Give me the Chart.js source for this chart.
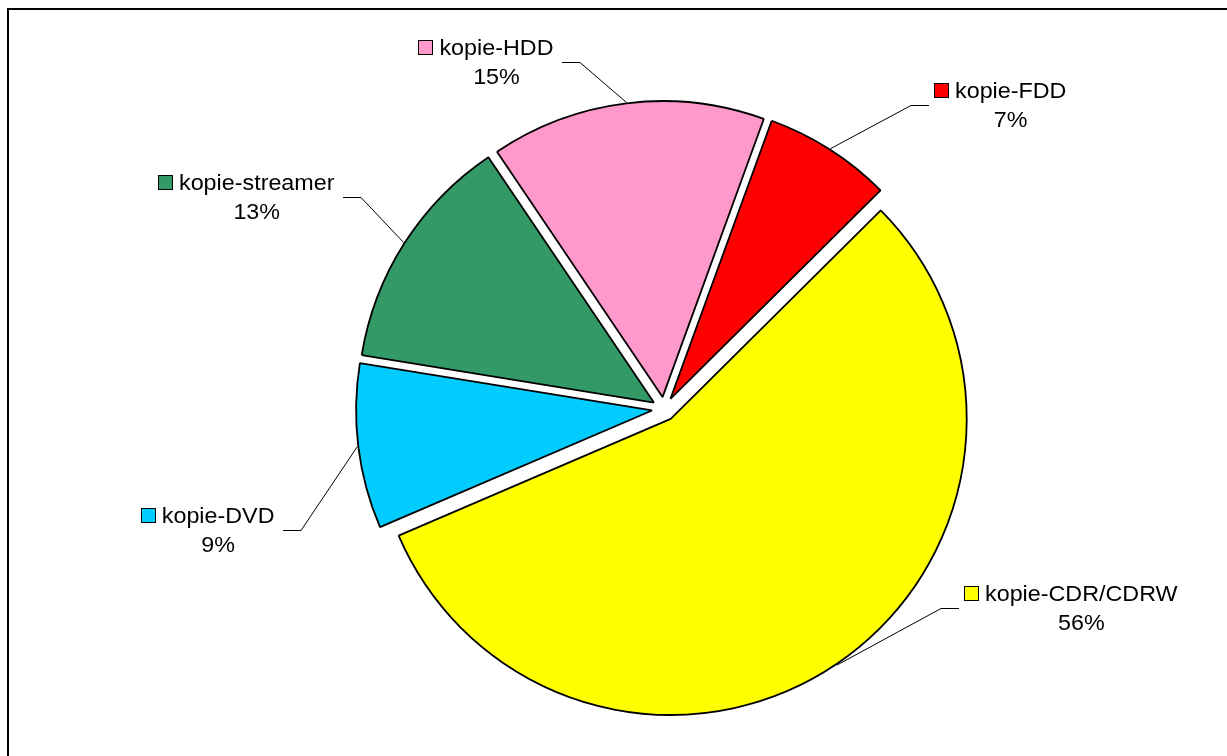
<!DOCTYPE html>
<html>
<head>
<meta charset="utf-8">
<title>Kopie</title>
<script src="https://cdn.jsdelivr.net/npm/chart.js@4.4.1/dist/chart.umd.min.js"></script>
<style>
  html, body { margin: 0; padding: 0; background: #fff; }
  #wrap { position: relative; width: 1227px; height: 756px; }
</style>
</head>
<body>
<div id="wrap"><canvas id="backupChart"></canvas></div>
<script>
// Slices, clockwise from the first one
const categories = ["kopie-FDD", "kopie-CDR/CDRW", "kopie-DVD", "kopie-streamer", "kopie-HDD"]
const shares = [7, 56, 9, 13, 15]
const sliceColors = ["#FF0000", "#FFFF00", "#00CCFF", "#339966", "#FF99CC"]

// Where each leader line ends (the label sits next to this point)
const labelAnchors = [[929, 105], [959, 608], [283, 530], [343, 197], [562, 62]]

const EXPLODE = 12
const FONT = '22px "Liberation Sans", Arial, sans-serif'
const TEXT_STRETCH = 1.06

// Push every slice out from the centre along its middle angle
const explodePlugin = {
  id: "explode",
  afterDatasetsUpdate(chart) {
    chart.getDatasetMeta(0).data.forEach((arc) => {
      const mid = (arc.startAngle + arc.endAngle) / 2
      arc.x += Math.cos(mid) * EXPLODE
      arc.y += Math.sin(mid) * EXPLODE
    })
  },
}

// Black frame along the top and left edge
const framePlugin = {
  id: "frame",
  beforeDraw(chart) {
    const ctx = chart.ctx
    ctx.save()
    ctx.strokeStyle = "#000"
    ctx.lineWidth = 2
    ctx.beginPath()
    ctx.moveTo(8, chart.height)
    ctx.lineTo(8, 9)
    ctx.lineTo(chart.width, 9)
    ctx.stroke()
    ctx.restore()
  },
}

function stretchedText(ctx, text, cx, baseline) {
  ctx.save()
  ctx.translate(cx, baseline)
  ctx.scale(TEXT_STRETCH, 1)
  ctx.textAlign = "center"
  ctx.textBaseline = "alphabetic"
  ctx.fillText(text, 0, 0)
  ctx.restore()
}

// Leader lines plus "key + name / percent" labels
const labelPlugin = {
  id: "sliceLabels",
  afterDatasetsDraw(chart) {
    const ctx = chart.ctx
    const total = shares.reduce((a, b) => a + b, 0)
    ctx.save()
    ctx.font = FONT
    chart.getDatasetMeta(0).data.forEach((arc, i) => {
      const mid = (arc.startAngle + arc.endAngle) / 2
      const r = arc.outerRadius + 1
      const ax = arc.x + Math.cos(mid) * r
      const ay = arc.y + Math.sin(mid) * r
      const [tx, ty] = labelAnchors[i]
      const leftSide = tx < ax
      const ex = leftSide ? tx + 18 : tx - 18
      const ly = ty + 0.5

      ctx.strokeStyle = "#000"
      ctx.lineWidth = 1
      ctx.beginPath()
      ctx.moveTo(ax, ay)
      ctx.lineTo(ex, ly)
      ctx.lineTo(tx, ly)
      ctx.stroke()

      const name = categories[i]
      const w = ctx.measureText(name).width * TEXT_STRETCH
      const baseline = ty - 7
      let nameLeft
      if (leftSide) {
        nameLeft = tx - 8.5 - w
      } else {
        nameLeft = tx + 26
      }
      const keyX = Math.round(nameLeft - 21) + 0.5
      const keyY = Math.round(baseline - 15) + 0.5
      ctx.fillStyle = sliceColors[i]
      ctx.fillRect(keyX, keyY, 14, 14)
      ctx.strokeRect(keyX, keyY, 14, 14)

      ctx.fillStyle = "#000"
      const cx = nameLeft + w / 2
      stretchedText(ctx, name, cx, baseline)
      stretchedText(ctx, Math.round((shares[i] / total) * 100) + "%", cx, baseline + 29)
    })
    ctx.restore()
  },
}

new Chart(document.getElementById("backupChart"), {
  type: "pie",
  data: {
    labels: categories,
    datasets: [
      {
        data: shares,
        backgroundColor: sliceColors,
        borderColor: "#000",
        borderWidth: 1.8,
        hoverOffset: 0,
      },
    ],
  },
  options: {
    responsive: true,
    maintainAspectRatio: false,
    animation: false,
    rotation: 20,
    radius: 296,
    layout: {
      padding: { left: 101, top: 62, right: 0, bottom: 0 },
    },
    plugins: {
      legend: { display: false },
      tooltip: { enabled: false },
    },
  },
  plugins: [explodePlugin, framePlugin, labelPlugin],
})
</script>
</body>
</html>
